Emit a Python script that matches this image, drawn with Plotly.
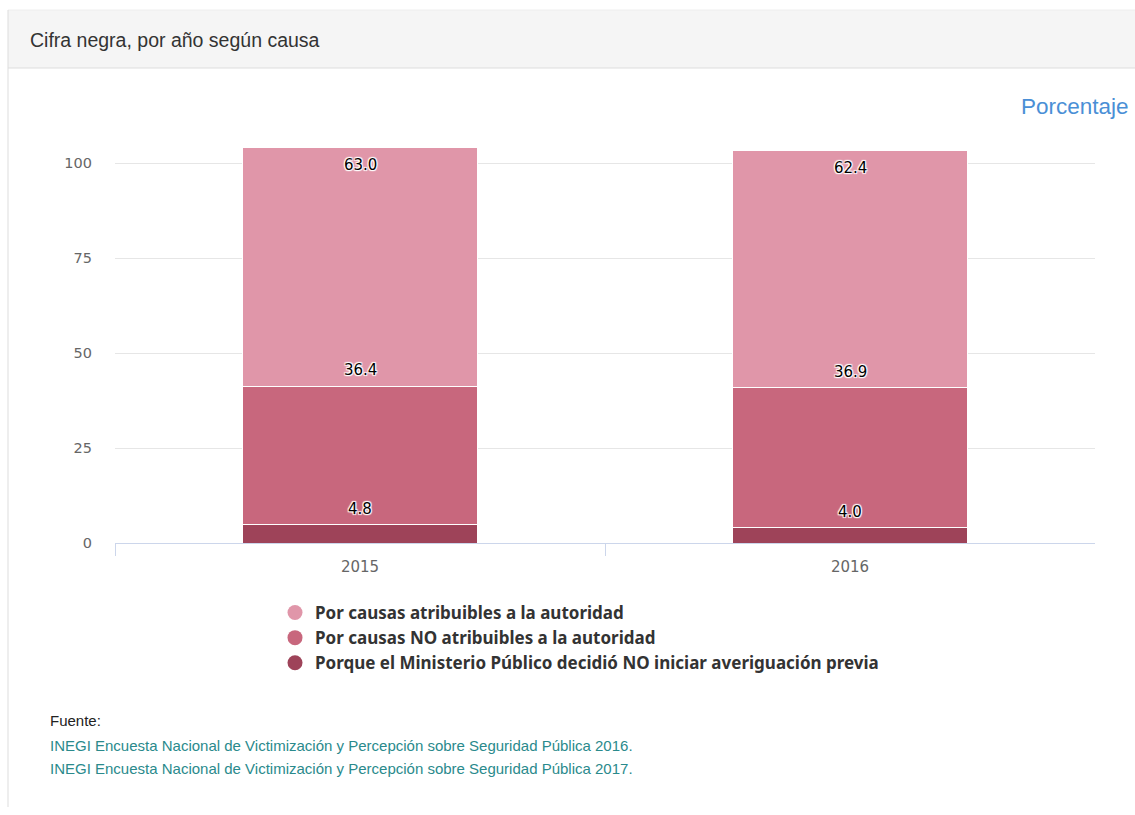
import plotly.graph_objects as go

# Data: "cifra negra" by year and cause (percent)
years = ["2015", "2016"]
series_names = [
    "Porque el Ministerio Público decidió NO iniciar averiguación previa",
    "Por causas NO atribuibles a la autoridad",
    "Por causas atribuibles a la autoridad",
]
ministerio = [4.8, 4.0]
no_atribuibles = [36.4, 36.9]
atribuibles = [63.0, 62.4]
series_values = [ministerio, no_atribuibles, atribuibles]
colors = ["#9e4359", "#c8677d", "#e096a9"]

W, H = 1135, 815
H_DRAWN = 807  # vertical extent used for converting pixel positions to paper fractions


def px(x):
    return x / W


def py(y):
    return 1 - y / H_DRAWN


fig = go.Figure()

# stacked bars
for name, vals, col in zip(series_names, series_values, colors):
    fig.add_trace(go.Bar(
        x=years, y=vals, name=name, marker=dict(color=col, line=dict(color="#ffffff", width=1)),
        width=0.48, showlegend=False, hoverinfo="y+name",
    ))

# legend entries with round symbols (top to bottom: light, medium, dark)
for name, col in reversed(list(zip(series_names, colors))):
    fig.add_trace(go.Scatter(
        x=[None], y=[None], mode="markers", name=name,
        marker=dict(color=col, size=15, symbol="circle"),
        legendgroup=name, showlegend=True,
    ))

# value labels at each segment's top edge
outline = ("0 0 2px #fff, 1px 1px 1px #fff, -1px -1px 1px #fff, "
           "1px -1px 1px #fff, -1px 1px 1px #fff")
annotations = []
for i, yr in enumerate(years):
    cum = 0.0
    for k, vals in enumerate(series_values):
        cum += vals[i]
        top = k == len(series_values) - 1
        annotations.append(dict(
            x=i, y=cum, xref="x", yref="y", text=f"{vals[i]:.1f}", showarrow=False,
            yanchor="middle", yshift=-18 if top else 16,
            font=dict(family="DejaVu Sans", size=15, color="#000000", shadow=outline),
        ))

# header, axis title and source notes
annotations += [
    dict(x=px(28), y=py(40), xref="paper", yref="paper", xanchor="left", yanchor="middle",
         text="Cifra negra, por año según causa", showarrow=False,
         font=dict(family="Liberation Sans", size=19.5, color="#333333")),
    dict(x=px(1131), y=py(106), xref="paper", yref="paper", xanchor="right", yanchor="middle",
         text="Porcentaje", showarrow=False,
         font=dict(family="Liberation Sans", size=22.5, color="#4a8fd6")),
    dict(x=px(48), y=py(720), xref="paper", yref="paper", xanchor="left", yanchor="middle",
         text="Fuente:", showarrow=False,
         font=dict(family="Liberation Sans", size=15, color="#222222")),
    dict(x=px(48), y=py(745), xref="paper", yref="paper", xanchor="left", yanchor="middle",
         text="INEGI Encuesta Nacional de Victimización y Percepción sobre Seguridad Pública 2016.",
         showarrow=False, font=dict(family="Liberation Sans", size=15, color="#2a8a8c")),
    dict(x=px(48), y=py(768), xref="paper", yref="paper", xanchor="left", yanchor="middle",
         text="INEGI Encuesta Nacional de Victimización y Percepción sobre Seguridad Pública 2017.",
         showarrow=False, font=dict(family="Liberation Sans", size=15, color="#2a8a8c")),
]

shapes = [
    dict(type="rect", xref="paper", yref="paper", x0=px(8), x1=1.0, y0=py(68), y1=py(10),
         fillcolor="#f5f5f5", line=dict(width=0), layer="below"),
    dict(type="line", xref="paper", yref="paper", x0=px(8), x1=1.0, y0=py(68), y1=py(68),
         line=dict(color="#dddddd", width=1)),
    dict(type="line", xref="paper", yref="paper", x0=px(8), x1=1.0, y0=py(10), y1=py(10),
         line=dict(color="#eeeeee", width=1)),
    dict(type="line", xref="paper", yref="paper", x0=px(8), x1=px(8), y0=0, y1=py(10),
         line=dict(color="#dddddd", width=1)),
]

fig.update_layout(
    width=W, height=H, autosize=False,
    margin=dict(l=0, r=0, t=0, b=0),
    paper_bgcolor="#ffffff", plot_bgcolor="#ffffff",
    barmode="stack", bargap=0.52,
    annotations=annotations, shapes=shapes,
    legend=dict(
        x=px(275), y=py(595), xanchor="left", yanchor="top",
        traceorder="normal", tracegroupgap=10, itemsizing="trace",
        font=dict(family="Noto Sans", size=17, color="#333333", weight="bold"),
        bgcolor="rgba(0,0,0,0)",
    ),
    xaxis=dict(
        domain=[px(115), px(1095)], range=[-0.5, 1.5], type="category",
        showline=True, linecolor="#ccd6eb", linewidth=1,
        ticks="outside", tickson="boundaries", ticklen=12, tickcolor="#ccd6eb",
        ticklabelstandoff=10,
        tickfont=dict(family="DejaVu Sans", size=15, color="#666666"),
        showgrid=False, fixedrange=True,
    ),
    yaxis=dict(
        domain=[py(543), py(125)], range=[0, 110],
        tickvals=[0, 25, 50, 75, 100], ticktext=["0", "25", "50", "75", "100"],
        showgrid=True, gridcolor="#e6e6e6", gridwidth=1, zeroline=False,
        showline=False, ticks="", ticklabelstandoff=22,
        tickfont=dict(family="DejaVu Sans", size=14.5, color="#666666"),
        fixedrange=True,
    ),
)

fig.write_html("out.html", config={"responsive": False})
